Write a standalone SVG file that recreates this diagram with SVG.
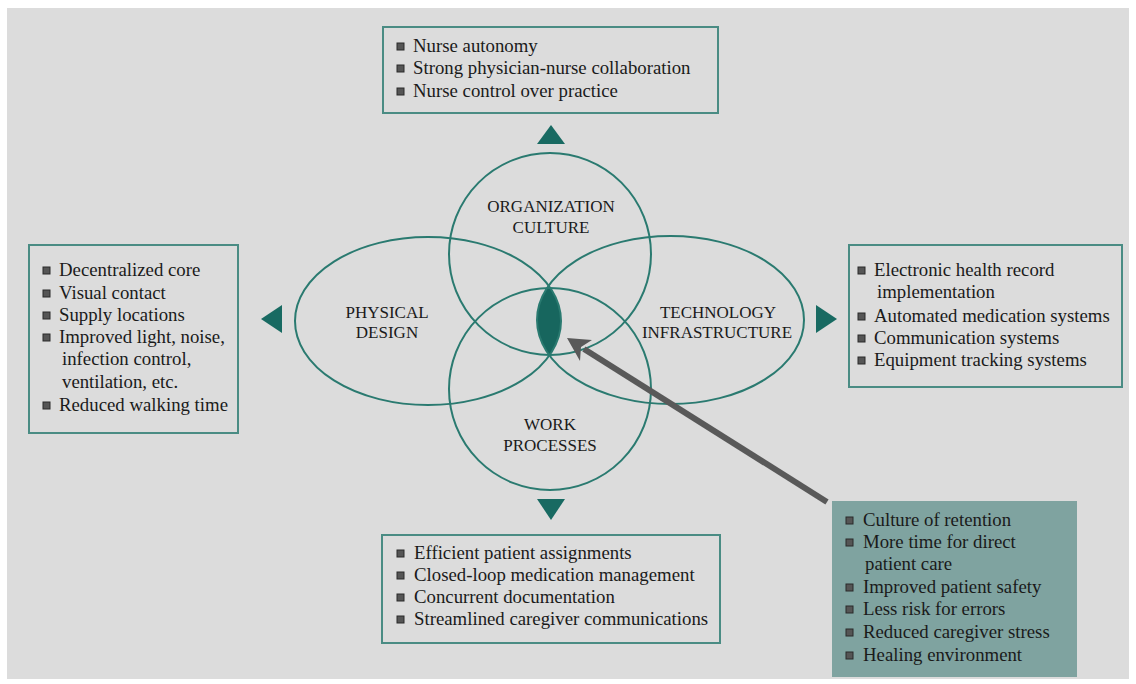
<svg xmlns="http://www.w3.org/2000/svg" width="1136" height="684" viewBox="0 0 1136 684">
  <defs>
    <style>
      .bg { fill: #dcdcdc; }
      .ring { fill: none; stroke: #2a7a70; stroke-width: 2; }
      .tri { fill: #186a62; }
      .box { fill: #dcdcdc; stroke: #4a8c84; stroke-width: 2; }
      .obox { fill: #7fa3a0; stroke: none; }
      .txt { font-family: "Liberation Serif", "Times New Roman", serif; font-size: 18.8px; fill: #1a1a1a; }
      .lbl { font-family: "Liberation Serif", "Times New Roman", serif; font-size: 17px; fill: #1a1a1a; text-anchor: middle; }
      .bul { fill: #555555; stroke: #2a2a2a; stroke-width: 1; }
      .arrow { stroke: #595959; stroke-width: 6; fill: none; }
    </style>
    <symbol id="b" viewBox="0 0 7 7" width="7" height="7" overflow="visible">
      <rect class="bul" x="0" y="0" width="7" height="7"/>
    </symbol>
    <clipPath id="clipPhys">
      <ellipse cx="428" cy="321" rx="133" ry="84"/>
    </clipPath>
  </defs>

  <rect class="bg" x="7" y="8" width="1122" height="671"/>

  <!-- Central Venn -->
  <g id="lens">
    <ellipse cx="670.5" cy="320" rx="133.5" ry="84" fill="#17665e" clip-path="url(#clipPhys)"/>
  </g>
  <g id="organization-culture">
    <circle class="ring" cx="550" cy="254" r="101"/>
    <text class="lbl" x="551" y="212">ORGANIZATION</text>
    <text class="lbl" x="551" y="233">CULTURE</text>
  </g>
  <g id="physical-design">
    <ellipse class="ring" cx="428" cy="321" rx="133" ry="84"/>
    <text class="lbl" x="387" y="318">PHYSICAL</text>
    <text class="lbl" x="387" y="338">DESIGN</text>
  </g>
  <g id="technology-infrastructure">
    <ellipse class="ring" cx="670.5" cy="320" rx="133.5" ry="84"/>
    <text class="lbl" x="718" y="318">TECHNOLOGY</text>
    <text class="lbl" x="717" y="338">INFRASTRUCTURE</text>
  </g>
  <g id="work-processes">
    <circle class="ring" cx="550" cy="389" r="101"/>
    <text class="lbl" x="550" y="430">WORK</text>
    <text class="lbl" x="550" y="451">PROCESSES</text>
  </g>

  <!-- Connectors -->
  <g id="connectors">
    <polygon class="tri" points="551,125 565,144 537,144"/>
    <polygon class="tri" points="261,319 282,305 282,333"/>
    <polygon class="tri" points="837,319 816,305 816,333"/>
    <polygon class="tri" points="551,520 537,499 565,499"/>
    <line class="arrow" x1="827" y1="502" x2="584" y2="349"/>
    <polygon fill="#595959" points="567,338 592,340 581,347 580,361"/>
  </g>

  <!-- Top box -->
  <g id="box-organization">
    <rect class="box" x="383" y="27" width="335" height="86"/>
    <use href="#b" x="397" y="43"/>
    <text class="txt" x="413" y="52">Nurse autonomy</text>
    <use href="#b" x="397" y="65"/>
    <text class="txt" x="413" y="74">Strong physician-nurse collaboration</text>
    <use href="#b" x="397" y="88"/>
    <text class="txt" x="413" y="97">Nurse control over practice</text>
  </g>

  <!-- Left box -->
  <g id="box-physical">
    <rect class="box" x="29" y="245" width="209" height="188"/>
    <use href="#b" x="43" y="267"/>
    <text class="txt" x="59" y="276">Decentralized core</text>
    <use href="#b" x="43" y="290"/>
    <text class="txt" x="59" y="299">Visual contact</text>
    <use href="#b" x="43" y="312"/>
    <text class="txt" x="59" y="321">Supply locations</text>
    <use href="#b" x="43" y="334"/>
    <text class="txt" x="59" y="343">Improved light, noise,</text>
    <text class="txt" x="62" y="365">infection control,</text>
    <text class="txt" x="62" y="388">ventilation, etc.</text>
    <use href="#b" x="43" y="402"/>
    <text class="txt" x="59" y="411">Reduced walking time</text>
  </g>

  <!-- Right box -->
  <g id="box-technology">
    <rect class="box" x="849" y="245" width="273" height="142"/>
    <use href="#b" x="858" y="267"/>
    <text class="txt" x="874" y="276">Electronic health record</text>
    <text class="txt" x="877" y="298">implementation</text>
    <use href="#b" x="858" y="313"/>
    <text class="txt" x="874" y="322">Automated medication systems</text>
    <use href="#b" x="858" y="335"/>
    <text class="txt" x="874" y="344">Communication systems</text>
    <use href="#b" x="858" y="357"/>
    <text class="txt" x="874" y="366">Equipment tracking systems</text>
  </g>

  <!-- Bottom box -->
  <g id="box-work">
    <rect class="box" x="382" y="535" width="338" height="108"/>
    <use href="#b" x="397" y="550"/>
    <text class="txt" x="414" y="559">Efficient patient assignments</text>
    <use href="#b" x="397" y="572"/>
    <text class="txt" x="414" y="581">Closed-loop medication management</text>
    <use href="#b" x="397" y="594"/>
    <text class="txt" x="414" y="603">Concurrent documentation</text>
    <use href="#b" x="397" y="616"/>
    <text class="txt" x="414" y="625">Streamlined caregiver communications</text>
  </g>

  <!-- Outcomes box -->
  <g id="box-outcomes">
    <rect class="obox" x="832" y="501" width="245" height="176"/>
    <use href="#b" x="846" y="517"/>
    <text class="txt" x="863" y="526">Culture of retention</text>
    <use href="#b" x="846" y="539"/>
    <text class="txt" x="863" y="548">More time for direct</text>
    <text class="txt" x="865" y="570">patient care</text>
    <use href="#b" x="846" y="584"/>
    <text class="txt" x="863" y="593">Improved patient safety</text>
    <use href="#b" x="846" y="606"/>
    <text class="txt" x="863" y="615">Less risk for errors</text>
    <use href="#b" x="846" y="629"/>
    <text class="txt" x="863" y="638">Reduced caregiver stress</text>
    <use href="#b" x="846" y="652"/>
    <text class="txt" x="863" y="661">Healing environment</text>
  </g>
</svg>
